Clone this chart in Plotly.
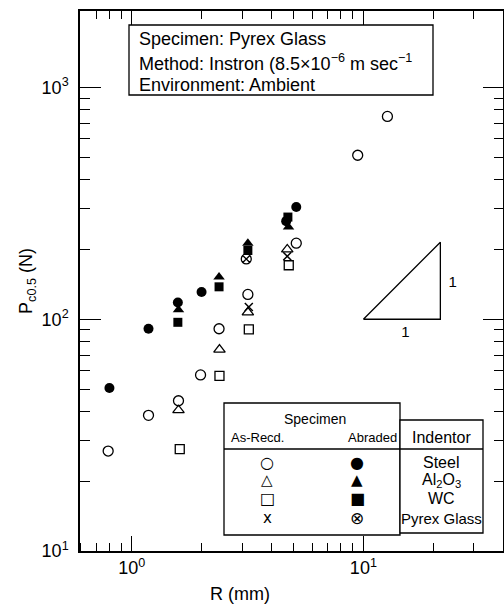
import plotly.graph_objects as go

# ---- data (R in mm, Pc0.5 in N) ----
steel_asrec_R = [0.79, 1.18, 1.59, 1.98, 2.38, 3.17, 5.13, 9.45, 12.7]
steel_asrec_P = [27, 38.5, 44.5, 57.5, 91, 128, 213, 510, 750]
steel_abr_R = [0.80, 1.18, 1.58, 2.0, 4.64, 5.13]
steel_abr_P = [50.5, 91, 118, 131, 265, 305]
al_asrec_R = [1.59, 2.39, 3.17, 4.69]
al_asrec_P = [40.5, 74, 107, 200]
al_abr_R = [1.59, 2.38, 3.17, 4.75]
al_abr_P = [110, 152, 213, 250]
wc_asrec_R = [1.61, 2.39, 3.2, 4.76]
wc_asrec_P = [27.5, 57, 90.5, 171]
wc_abr_R = [1.58, 2.38, 3.17, 4.72]
wc_abr_P = [97, 138, 198, 276]
pyrex_asrec_R = [3.2, 4.69]
pyrex_asrec_P = [113, 187]
pyrex_abr_R = [3.12]
pyrex_abr_P = [182]

slope_R = [10, 21.5, 21.5, 10]
slope_P = [100, 100, 215, 100]
slope_lbl_R = [15.2, 24.3]
slope_lbl_P = [87, 143]

x_tickvals = [1, 10]
x_ticktext = ["10<sup>0</sup>", "10<sup>1</sup>"]
y_tickvals = [10, 100, 1000]
y_ticktext = ["10<sup>1</sup>", "10<sup>2</sup>", "10<sup>3</sup>"]
x_minor = [0.6, 0.7, 0.8, 0.9, 2, 3, 4, 5, 6, 7, 8, 9, 20, 30]
y_minor = [20, 30, 40, 50, 60, 70, 80, 90, 200, 300, 400, 500, 600, 700, 800, 900]

FONT = "Liberation Sans"
W, H = 504, 608
L, R, T, B = 80, 1, 11, 57
PW, PH = W - L - R, H - T - B
X_RANGE = [-0.224, 1.603]
Y_RANGE = [1, 3.33]


def px(x, y):
    """screen pixel -> paper coords"""
    return (x - L) / PW, (H - B - y) / PH


fig = go.Figure()


def add(xs, ys, symbol, size=10, lw=1.3):
    fig.add_trace(go.Scatter(x=xs, y=ys, mode="markers", showlegend=False,
                             marker=dict(symbol=symbol, size=size, color="black",
                                         line=dict(color="black", width=lw))))


add(steel_asrec_R, steel_asrec_P, "circle-open")
add(steel_abr_R, steel_abr_P, "circle", lw=0)
add(al_asrec_R, al_asrec_P, "triangle-up-open")
add(al_abr_R, al_abr_P, "triangle-up", lw=0)
add(wc_asrec_R, wc_asrec_P, "square-open", size=9)
add(wc_abr_R, wc_abr_P, "square", size=9, lw=0)
add(pyrex_asrec_R, pyrex_asrec_P, "x-thin-open", size=8, lw=1.5)
add(pyrex_abr_R, pyrex_abr_P, "circle-x-open", size=10)

# slope triangle / labels on overlay axes that share the same ranges (they carry the frame ticks)
fig.add_trace(go.Scatter(x=slope_R, y=slope_P, mode="lines", showlegend=False,
                         xaxis="x2", yaxis="y2", line=dict(color="black", width=1.3)))
fig.add_trace(go.Scatter(x=slope_lbl_R, y=slope_lbl_P, mode="text", text=["1", "1"],
                         xaxis="x3", yaxis="y3", showlegend=False,
                         textfont=dict(family=FONT, size=15, color="black")))

shapes = []
annotations = []


def rect(x0, y0, x1, y1, fill="white"):
    a0, b0 = px(x0, y0)
    a1, b1 = px(x1, y1)
    shapes.append(dict(type="rect", xref="paper", yref="paper", x0=a0, y0=b0, x1=a1, y1=b1,
                       line=dict(color="black", width=1.3), fillcolor=fill, layer="above"))


def hline(x0, x1, y):
    a0, b = px(x0, y)
    a1, _ = px(x1, y)
    shapes.append(dict(type="line", xref="paper", yref="paper", x0=a0, y0=b, x1=a1, y1=b,
                       line=dict(color="black", width=1.3), layer="above"))


def text(x, y, s, size=14, anchor="center", family=FONT):
    a, b = px(x, y)
    annotations.append(dict(x=a, y=b, xref="paper", yref="paper", text=s, showarrow=False,
                            xanchor=anchor, yanchor="middle",
                            font=dict(family=family, size=size, color="black")))


# inset box
rect(129, 25, 433, 95)
text(137, 39, "Specimen: Pyrex Glass", 18, "left")
text(137, 62, "Method: Instron (8.5×10<sup>−6</sup> m sec<sup>−1</sup>", 18, "left")
text(137, 85, "Environment: Ambient", 18, "left")

# legend table
rect(224, 403, 400, 535)
rect(400, 420, 483, 533)
hline(224, 483, 449)
text(315, 419, "Specimen", 14)
text(257, 437, "As-Recd.", 13)
text(372, 437, "Abraded", 13)
text(441, 437, "Indentor", 16)
rows = [462, 480, 498, 518]
left_glyphs = ["○", "△", "□", "x"]
right_glyphs = ["●", "▲", "■", "⊗"]
glyph_sizes = [16, 15, 16, 15]
labels = ["Steel", "Al<sub>2</sub>O<sub>3</sub>", "WC", "Pyrex Glass"]
label_sizes = [16, 16, 16, 15]
for yy, g1, g2, gs, lab, ls in zip(rows, left_glyphs, right_glyphs, glyph_sizes, labels, label_sizes):
    text(267, yy, g1, gs, family="DejaVu Sans")
    text(357, yy, g2, gs + (2 if g2 == "⊗" else 0), family="DejaVu Sans")
    text(441, yy, lab, ls)

# x title
text(240, 594, "R (mm)", 18)

base = dict(type="log", showgrid=False, zeroline=False, linecolor="black", linewidth=1.5,
            mirror=False, tickcolor="black", tickwidth=1.4,
            tickfont=dict(family=FONT, size=18, color="black"))


def xticks(kind):
    return dict(tickmode="array", tickvals=x_tickvals, ticklen=15, ticks=kind,
                minor=dict(ticks=kind, ticklen=8, tickmode="array", tickvals=x_minor,
                           tickcolor="black", tickwidth=1.4, showgrid=False))


def yticks(kind):
    return dict(tickmode="array", tickvals=y_tickvals, ticklen=20, ticks=kind,
                minor=dict(ticks=kind, ticklen=9, tickmode="array", tickvals=y_minor,
                           tickcolor="black", tickwidth=1.4, showgrid=False))


fig.update_layout(
    width=W, height=H, margin=dict(l=L, r=R, t=T, b=B),
    paper_bgcolor="white", plot_bgcolor="white",
    font=dict(family=FONT, color="black"),
    # main axes: line + labels
    xaxis=dict(base, **xticks("inside"), range=X_RANGE, ticktext=x_ticktext, side="bottom",
               showline=True),
    yaxis=dict(base, **yticks("inside"), range=Y_RANGE, ticktext=y_ticktext, side="left",
               showline=True, ticklabelstandoff=6,
               title=dict(text="P<sub>c0.5</sub> (N)", font=dict(family=FONT, size=18, color="black"),
                          standoff=4)),
    # top / right frame with inward ticks
    xaxis2=dict(base, **xticks("inside"), range=X_RANGE, overlaying="x", side="top",
                showline=True, showticklabels=False, anchor="y2"),
    yaxis2=dict(base, **yticks("inside"), range=Y_RANGE, overlaying="y", side="right",
                showline=True, showticklabels=False, anchor="x2"),
    # inward ticks along the bottom and left edges
    xaxis3=dict(base, **xticks("outside"), range=X_RANGE, overlaying="x", side="top",
                anchor="free", position=0, showline=False, showticklabels=False),
    yaxis3=dict(base, **yticks("outside"), range=Y_RANGE, overlaying="y", side="right",
                anchor="free", position=0, showline=False, showticklabels=False),
    shapes=shapes, annotations=annotations,
)

fig.write_html("out.html", config={"displayModeBar": False},
               post_script="document.body.style.margin='0';document.body.style.overflow='hidden';")
